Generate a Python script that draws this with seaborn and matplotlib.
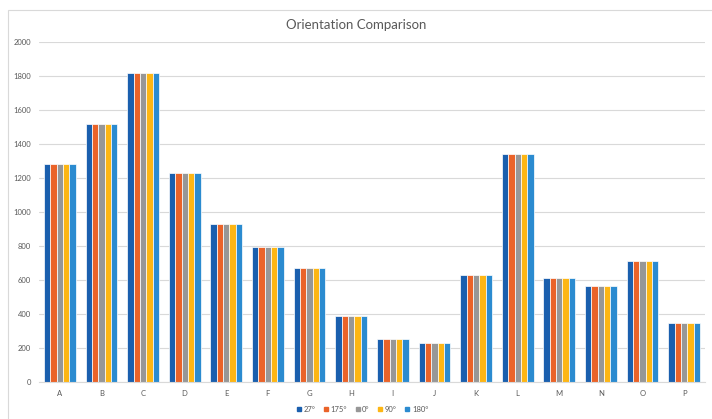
import matplotlib
matplotlib.use("Agg")
import matplotlib.pyplot as plt
import seaborn as sns
import pandas as pd
from matplotlib.patches import Rectangle
from matplotlib.lines import Line2D

categories = list("ABCDEFGHIJKLMNOP")
series_names = ["27°", "175°", "0°", "90°", "180°"]
values = [1285, 1520, 1815, 1228, 927, 792, 668, 387, 252, 232, 627, 1340, 613, 564, 709, 346]
s27 = values
s175 = values
s0 = values
s90 = values
s180 = values
colors = ["#1A5FAE", "#EA6329", "#979797", "#FDB614", "#2B8BD0"]
yticks = [0, 200, 400, 600, 800, 1000, 1200, 1400, 1600, 1800, 2000]

rows = []
for name, vals in zip(series_names, [s27, s175, s0, s90, s180]):
    for c, v in zip(categories, vals):
        rows.append({"cat": c, "series": name, "value": v})
df = pd.DataFrame(rows)

sns.set_theme(style="white")
plt.rcParams['font.family'] = ['Lato', 'DejaVu Sans']

fig = plt.figure(figsize=(7.12, 4.19), dpi=100)
ax = fig.add_axes([39/712, 1-382/419, (705-39)/712, (382-42)/419])

sns.barplot(data=df, x="cat", y="value", hue="series", palette=colors,
            width=0.76, ax=ax, edgecolor="#ffffff", linewidth=0.5,
            saturation=1, legend=False)

ax.set_ylim(0, 2000)
ax.set_xlim(-0.5, len(categories) - 0.5)
ax.set_yticks(yticks)
ax.set_yticklabels([str(t) for t in yticks])
ax.yaxis.grid(True, color="#D9D9D9", linewidth=0.8)
ax.set_axisbelow(True)
for s in ["top", "right", "left"]:
    ax.spines[s].set_visible(False)
ax.spines["bottom"].set_color("#D9D9D9")
ax.spines["bottom"].set_linewidth(0.8)
ax.tick_params(axis="both", length=0, labelsize=5.5, colors="#595959", pad=6)
ax.set_xlabel("")
ax.set_ylabel("")

fig.text(0.5, 1-25/419, "Orientation Comparison", ha="center", va="center",
         fontsize=9.5, color="#595959")

handles = [Line2D([0], [0], marker="s", linestyle="", markersize=3.5,
                  markerfacecolor=c, markeredgecolor=c) for c in colors]
fig.legend(handles, series_names, loc="center", bbox_to_anchor=(362/712, 1-409/419),
           ncol=5, frameon=False, fontsize=5.5, handlelength=0.8, handletextpad=0.2,
           columnspacing=1.0, labelcolor="#595959")

fig.patches.append(Rectangle((8/712, -0.01), 1.0, 1-10/419+0.01, transform=fig.transFigure,
                             fill=False, edgecolor="#D9D9D9", linewidth=0.8))

fig.savefig("out.png", dpi=100, facecolor="white")
